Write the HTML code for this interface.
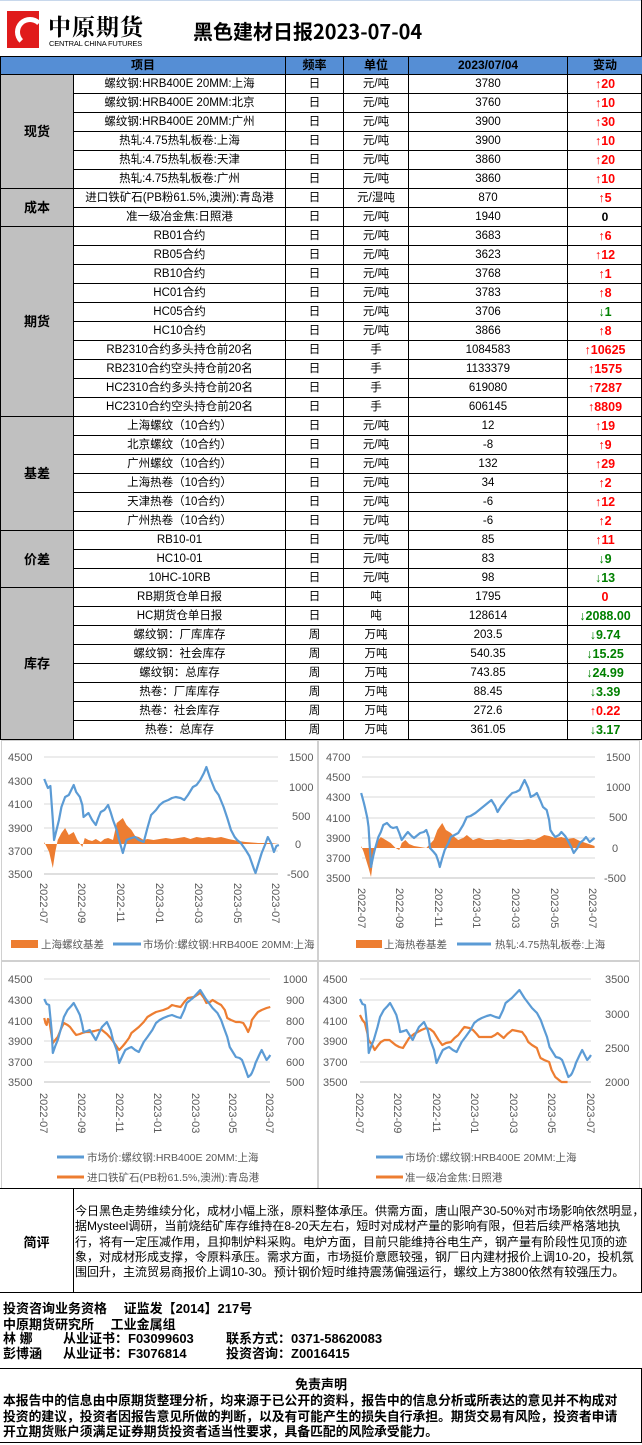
<!DOCTYPE html>
<html><head><meta charset="utf-8">
<style>
*{margin:0;padding:0;box-sizing:border-box}
body{width:642px;height:1445px;background:#fff;position:relative;overflow:hidden;font-family:"Liberation Sans","Noto Sans CJK SC",sans-serif;color:#000}
.abs{position:absolute}
table{position:absolute;left:0;top:56px;border-collapse:collapse;table-layout:fixed;width:642px}
td{border:1px solid #000;height:19px;text-align:center;font-size:11.5px;line-height:17px;white-space:nowrap;overflow:hidden;padding:0}
tr.h td{background:#558ed5;font-weight:bold;height:18px;font-size:12px}
td.cat{background:#c0c0c0;font-weight:bold;font-size:13px}
.u{color:#f00;font-weight:bold;font-size:12.5px}
.d{color:#008000;font-weight:bold;font-size:12.5px}
.z{font-weight:bold;font-size:12px}
svg text{font-family:"Liberation Sans","Noto Sans CJK SC",sans-serif}
.cm{font-size:12px;line-height:15.3px}
.b{font-weight:bold;font-size:13px;line-height:15.5px}
</style></head><body>
<div class="abs" style="left:0;top:0;width:642px;height:56px;border-top:1px solid #c8d8ec"></div>
<div class="abs" style="left:7px;top:11px;width:32px;height:37px;background:#e01b1b;overflow:hidden">
<div style="position:absolute;left:8px;top:6px;width:30px;height:30px;border:5px solid #fff;border-radius:50%;border-right-color:transparent;border-bottom-color:transparent"></div></div>
<div class="abs" style="left:48px;top:9px;font-size:23px;font-weight:bold;letter-spacing:1px;font-family:'Noto Serif CJK SC',serif">中原期货</div>
<div class="abs" style="left:49px;top:39px;font-size:7.5px;letter-spacing:-0.2px">CENTRAL CHINA FUTURES</div>
<div class="abs" style="left:193px;top:18px;font-size:20px;font-weight:bold;font-family:'Noto Sans CJK SC',sans-serif;line-height:26px">黑色建材日报2023-07-04</div>
<div class="abs" style="left:641px;top:0;width:1px;height:740px;background:#000"></div>

<table>
<colgroup><col style="width:73px"><col style="width:212px"><col style="width:58px"><col style="width:65px"><col style="width:159px"><col style="width:75px"></colgroup>
<tr class="h"><td colspan="2">项目</td><td>频率</td><td>单位</td><td>2023/07/04</td><td>变动</td></tr>
<tr><td class="cat" rowspan="6">现货</td><td>螺纹钢:HRB400E 20MM:上海</td><td>日</td><td>元/吨</td><td>3780</td><td class="u">↑20</td></tr>
<tr><td>螺纹钢:HRB400E 20MM:北京</td><td>日</td><td>元/吨</td><td>3760</td><td class="u">↑10</td></tr>
<tr><td>螺纹钢:HRB400E 20MM:广州</td><td>日</td><td>元/吨</td><td>3900</td><td class="u">↑30</td></tr>
<tr><td>热轧:4.75热轧板卷:上海</td><td>日</td><td>元/吨</td><td>3900</td><td class="u">↑10</td></tr>
<tr><td>热轧:4.75热轧板卷:天津</td><td>日</td><td>元/吨</td><td>3860</td><td class="u">↑20</td></tr>
<tr><td>热轧:4.75热轧板卷:广州</td><td>日</td><td>元/吨</td><td>3860</td><td class="u">↑10</td></tr>
<tr><td class="cat" rowspan="2">成本</td><td>进口铁矿石(PB粉61.5%,澳洲):青岛港</td><td>日</td><td>元/湿吨</td><td>870</td><td class="u">↑5</td></tr>
<tr><td>准一级冶金焦:日照港</td><td>日</td><td>元/吨</td><td>1940</td><td class="z">0</td></tr>
<tr><td class="cat" rowspan="10">期货</td><td>RB01合约</td><td>日</td><td>元/吨</td><td>3683</td><td class="u">↑6</td></tr>
<tr><td>RB05合约</td><td>日</td><td>元/吨</td><td>3623</td><td class="u">↑12</td></tr>
<tr><td>RB10合约</td><td>日</td><td>元/吨</td><td>3768</td><td class="u">↑1</td></tr>
<tr><td>HC01合约</td><td>日</td><td>元/吨</td><td>3783</td><td class="u">↑8</td></tr>
<tr><td>HC05合约</td><td>日</td><td>元/吨</td><td>3706</td><td class="d">↓1</td></tr>
<tr><td>HC10合约</td><td>日</td><td>元/吨</td><td>3866</td><td class="u">↑8</td></tr>
<tr><td>RB2310合约多头持仓前20名</td><td>日</td><td>手</td><td>1084583</td><td class="u">↑10625</td></tr>
<tr><td>RB2310合约空头持仓前20名</td><td>日</td><td>手</td><td>1133379</td><td class="u">↑1575</td></tr>
<tr><td>HC2310合约多头持仓前20名</td><td>日</td><td>手</td><td>619080</td><td class="u">↑7287</td></tr>
<tr><td>HC2310合约空头持仓前20名</td><td>日</td><td>手</td><td>606145</td><td class="u">↑8809</td></tr>
<tr><td class="cat" rowspan="6">基差</td><td>上海螺纹（10合约）</td><td>日</td><td>元/吨</td><td>12</td><td class="u">↑19</td></tr>
<tr><td>北京螺纹（10合约）</td><td>日</td><td>元/吨</td><td>-8</td><td class="u">↑9</td></tr>
<tr><td>广州螺纹（10合约）</td><td>日</td><td>元/吨</td><td>132</td><td class="u">↑29</td></tr>
<tr><td>上海热卷（10合约）</td><td>日</td><td>元/吨</td><td>34</td><td class="u">↑2</td></tr>
<tr><td>天津热卷（10合约）</td><td>日</td><td>元/吨</td><td>-6</td><td class="u">↑12</td></tr>
<tr><td>广州热卷（10合约）</td><td>日</td><td>元/吨</td><td>-6</td><td class="u">↑2</td></tr>
<tr><td class="cat" rowspan="3">价差</td><td>RB10-01</td><td>日</td><td>元/吨</td><td>85</td><td class="u">↑11</td></tr>
<tr><td>HC10-01</td><td>日</td><td>元/吨</td><td>83</td><td class="d">↓9</td></tr>
<tr><td>10HC-10RB</td><td>日</td><td>元/吨</td><td>98</td><td class="d">↓13</td></tr>
<tr><td class="cat" rowspan="8">库存</td><td>RB期货仓单日报</td><td>日</td><td>吨</td><td>1795</td><td class="u">0</td></tr>
<tr><td>HC期货仓单日报</td><td>日</td><td>吨</td><td>128614</td><td class="d">↓2088.00</td></tr>
<tr><td>螺纹钢：厂库库存</td><td>周</td><td>万吨</td><td>203.5</td><td class="d">↓9.74</td></tr>
<tr><td>螺纹钢：社会库存</td><td>周</td><td>万吨</td><td>540.35</td><td class="d">↓15.25</td></tr>
<tr><td>螺纹钢：总库存</td><td>周</td><td>万吨</td><td>743.85</td><td class="d">↓24.99</td></tr>
<tr><td>热卷：厂库库存</td><td>周</td><td>万吨</td><td>88.45</td><td class="d">↓3.39</td></tr>
<tr><td>热卷：社会库存</td><td>周</td><td>万吨</td><td>272.6</td><td class="u">↑0.22</td></tr>
<tr><td>热卷：总库存</td><td>周</td><td>万吨</td><td>361.05</td><td class="d">↓3.17</td></tr>
</table>

<svg class="abs" style="left:0;top:740px" width="642" height="450" viewBox="0 0 642 450">
<g fill="none" stroke="#d0d0d0" stroke-width="1">
<rect x="1.5" y="0.5" width="316" height="220"/><rect x="318.5" y="0.5" width="321" height="220"/>
<rect x="1.5" y="221.5" width="316" height="227"/><rect x="318.5" y="221.5" width="321" height="227"/>
</g>
<g stroke="#d9d9d9" stroke-width="1">
<line x1="44" x2="278" y1="17" y2="17"/><line x1="44" x2="278" y1="41" y2="41"/><line x1="44" x2="278" y1="64" y2="64"/><line x1="44" x2="278" y1="88" y2="88"/><line x1="44" x2="278" y1="111" y2="111"/>
<line x1="362" x2="595" y1="17" y2="17"/><line x1="362" x2="595" y1="37" y2="37"/><line x1="362" x2="595" y1="57" y2="57"/><line x1="362" x2="595" y1="78" y2="78"/><line x1="362" x2="595" y1="98" y2="98"/><line x1="362" x2="595" y1="118" y2="118"/>
<line x1="44" x2="270" y1="239" y2="239"/><line x1="44" x2="270" y1="260" y2="260"/><line x1="44" x2="270" y1="281" y2="281"/><line x1="44" x2="270" y1="301" y2="301"/><line x1="44" x2="270" y1="322" y2="322"/>
<line x1="360" x2="591" y1="239" y2="239"/><line x1="360" x2="591" y1="260" y2="260"/><line x1="360" x2="591" y1="281" y2="281"/><line x1="360" x2="591" y1="301" y2="301"/><line x1="360" x2="591" y1="322" y2="322"/>
</g>
<g stroke="#bfbfbf"><line x1="44" x2="278" y1="134" y2="134"/><line x1="362" x2="595" y1="138" y2="138"/><line x1="44" x2="270" y1="342" y2="342"/><line x1="360" x2="591" y1="342" y2="342"/></g>
<g transform="scale(1.2285,1)">
<polygon fill="#ed7d31" points="36,104 36,102 38,107 40,112 43,128 45,112 47,100 50,93 53,88 56,95 60,92 63,100 67,107 69,98 72,100 75,101 78,99 82,102 85,99 88,98 92,100 95,83 98,80 100,78 103,85 107,90 110,96 113,97 117,100 120,99 125,100 130,99 135,98 140,99 145,98 150,97 155,99 160,97 165,98 170,97 175,98 180,97 186,99 190,100 194,101 200,102 210,103 220,103 227,104"/>
<polyline fill="none" stroke="#5b9bd5" stroke-width="2.2" vector-effect="non-scaling-stroke" stroke-linejoin="round" points="36,39 39,48 41,46 42,63 43,80 44,100 46,90 48,80 50,67 53,57 56,55 58,50 60,45 62,52 65,57 67,65 68,77 70,75 72,73 75,80 78,85 80,78 82,72 85,70 88,65 90,72 92,80 95,90 97,100 100,113 102,104 103,100 107,98 110,97 113,100 117,102 120,88 123,75 127,70 130,65 133,62 137,60 140,58 143,57 147,58 150,60 153,55 157,47 160,45 163,40 166,33 168,27 171,38 175,50 178,55 182,67 185,78 188,90 191,97 193,100 196,103 200,110 203,116 205,123 207,130 208,133 210,125 213,113 216,104 218,97 221,104 223,112 225,106 227,105"/>
<polygon fill="#ed7d31" points="294,108 294,106 296,112 298,120 300,128 302,137 304,118 306,107 308,100 310,97 314,100 318,103 322,108 325,110 327,103 330,100 333,104 337,106 342,107 347,108 350,104 353,100 356,90 360,83 363,90 367,93 370,97 373,100 377,98 380,95 385,100 390,98 395,100 400,100 405,99 410,100 415,99 420,100 425,100 430,99 435,100 440,97 443,95 447,96 452,98 457,97 462,99 467,98 472,101 477,103 484,106 484,108"/>
<polyline fill="none" stroke="#5b9bd5" stroke-width="2.2" vector-effect="non-scaling-stroke" stroke-linejoin="round" points="294,53 296,62 297,67 299,78 300,87 302,127 304,115 305,110 308,97 310,92 312,85 315,83 318,87 320,88 323,87 325,93 327,100 330,95 332,92 335,96 337,98 340,95 342,93 345,92 347,90 349,97 350,108 353,112 355,115 357,122 358,127 360,118 362,110 365,103 367,97 370,95 373,93 377,85 380,77 383,76 387,73 390,70 393,67 397,63 400,60 403,66 405,72 408,66 410,63 413,58 417,53 420,52 423,50 425,45 427,40 430,48 432,57 435,55 437,53 440,61 442,67 445,70 447,80 448,90 450,94 452,97 455,95 457,92 460,96 462,100 465,107 467,113 470,108 472,103 475,100 477,97 480,102 482,100 484,98"/>
</g>
<g transform="scale(1.2285,1)">
<polyline fill="none" stroke="#ed7d31" stroke-width="2.2" vector-effect="non-scaling-stroke" stroke-linejoin="round" points="36,278 37,283 38,285 39,279 40,280 43,303 45,300 47,297 50,288 52,283 55,285 57,287 60,292 62,295 65,294 67,293 70,292 73,292 77,291 80,290 83,290 87,294 90,298 93,303 97,310 100,306 102,303 105,298 107,293 110,290 113,287 117,282 120,277 124,274 127,272 130,271 133,270 137,268 140,265 143,266 147,267 150,262 153,258 158,257 163,253 166,258 168,263 171,262 173,260 177,263 180,265 183,270 185,278 188,280 192,282 195,282 198,283 200,287 202,292 204,286 205,280 208,275 210,272 213,270 217,268 220,267"/>
<polyline fill="none" stroke="#5b9bd5" stroke-width="2.2" vector-effect="non-scaling-stroke" stroke-linejoin="round" points="36,259 38,264 40,265 42,290 43,313 45,306 47,300 50,287 52,277 55,270 58,266 60,263 63,270 65,275 67,285 68,292 71,291 73,290 76,296 78,300 81,292 83,287 87,282 90,290 92,300 95,310 97,323 100,315 102,310 105,308 107,307 110,310 113,312 117,302 120,297 124,290 127,283 130,280 133,278 137,276 140,275 144,277 147,278 150,270 152,263 155,260 157,258 160,254 163,250 167,258 170,263 173,268 177,273 180,280 182,287 185,297 187,307 190,313 192,317 195,318 197,320 200,330 202,337 204,335 205,333 207,327 208,323 211,315 213,310 215,315 217,320 219,317 220,315"/>
<polyline fill="none" stroke="#ed7d31" stroke-width="2.2" vector-effect="non-scaling-stroke" stroke-linejoin="round" points="293,275 295,280 297,283 299,293 300,300 303,305 305,310 308,305 310,302 313,300 317,300 320,303 322,305 325,307 328,308 331,302 333,298 337,294 340,292 343,290 347,288 350,289 353,292 357,300 360,305 363,303 367,302 370,298 373,295 376,290 378,287 382,288 385,290 388,294 390,297 395,297 400,297 403,295 405,293 408,296 410,298 413,294 417,290 421,291 425,292 428,297 430,302 433,305 437,308 439,315 440,318 443,320 447,322 449,330 452,337 455,340 457,342 462,342"/>
<g transform="translate(293,0) scale(1.022,1) translate(-36,0)">
<polyline fill="none" stroke="#5b9bd5" stroke-width="2.2" vector-effect="non-scaling-stroke" stroke-linejoin="round" points="36,259 38,264 40,265 42,290 43,313 45,306 47,300 50,287 52,277 55,270 58,266 60,263 63,270 65,275 67,285 68,292 71,291 73,290 76,296 78,300 81,292 83,287 87,282 90,290 92,300 95,310 97,323 100,315 102,310 105,308 107,307 110,310 113,312 117,302 120,297 124,290 127,283 130,280 133,278 137,276 140,275 144,277 147,278 150,270 152,263 155,260 157,258 160,254 163,250 167,258 170,263 173,268 177,273 180,280 182,287 185,297 187,307 190,313 192,317 195,318 197,320 200,330 202,337 204,335 205,333 207,327 208,323 211,315 213,310 215,315 217,320 219,317 220,315"/>
</g>
</g>
<g font-size="11" fill="#595959">
<text x="8" y="21">4500</text><text x="8" y="45">4300</text><text x="8" y="68">4100</text><text x="8" y="92">3900</text><text x="8" y="115">3700</text><text x="8" y="138">3500</text>
<text x="289" y="21">1500</text><text x="289" y="51">1000</text><text x="292" y="80">500</text><text x="295" y="108">0</text><text x="287" y="138">-500</text>
<text x="326" y="21">4700</text><text x="326" y="41">4500</text><text x="326" y="61">4300</text><text x="326" y="82">4100</text><text x="326" y="102">3900</text><text x="326" y="122">3700</text><text x="326" y="142">3500</text>
<text x="606" y="21">1500</text><text x="606" y="51">1000</text><text x="609" y="81">500</text><text x="612" y="112">0</text><text x="604" y="142">-500</text>
<text x="8" y="243">4500</text><text x="8" y="264">4300</text><text x="8" y="285">4100</text><text x="8" y="305">3900</text><text x="8" y="326">3700</text><text x="8" y="346">3500</text>
<text x="283" y="243">1000</text><text x="286" y="264">900</text><text x="286" y="285">800</text><text x="286" y="305">700</text><text x="286" y="326">600</text><text x="286" y="346">500</text>
<text x="323" y="243">4500</text><text x="323" y="264">4300</text><text x="323" y="285">4100</text><text x="323" y="305">3900</text><text x="323" y="326">3700</text><text x="323" y="346">3500</text>
<text x="605" y="243">3500</text><text x="605" y="278">3000</text><text x="605" y="312">2500</text><text x="605" y="346">2000</text>
</g>
<g font-size="11" fill="#595959">
<text transform="translate(40,143) rotate(90)">2022-07</text><text transform="translate(78,143) rotate(90)">2022-09</text><text transform="translate(117,143) rotate(90)">2022-11</text><text transform="translate(156,143) rotate(90)">2023-01</text><text transform="translate(195,143) rotate(90)">2023-03</text><text transform="translate(234,143) rotate(90)">2023-05</text><text transform="translate(272,143) rotate(90)">2023-07</text>
<text transform="translate(358,148) rotate(90)">2022-07</text><text transform="translate(396,148) rotate(90)">2022-09</text><text transform="translate(435,148) rotate(90)">2022-11</text><text transform="translate(473,148) rotate(90)">2023-01</text><text transform="translate(512,148) rotate(90)">2023-03</text><text transform="translate(551,148) rotate(90)">2023-05</text><text transform="translate(589,148) rotate(90)">2023-07</text>
<text transform="translate(40,353) rotate(90)">2022-07</text><text transform="translate(78,353) rotate(90)">2022-09</text><text transform="translate(116,353) rotate(90)">2022-11</text><text transform="translate(154,353) rotate(90)">2023-01</text><text transform="translate(192,353) rotate(90)">2023-03</text><text transform="translate(229,353) rotate(90)">2023-05</text><text transform="translate(266,353) rotate(90)">2023-07</text>
<text transform="translate(356,353) rotate(90)">2022-07</text><text transform="translate(394,353) rotate(90)">2022-09</text><text transform="translate(433,353) rotate(90)">2022-11</text><text transform="translate(471,353) rotate(90)">2023-01</text><text transform="translate(510,353) rotate(90)">2023-03</text><text transform="translate(548,353) rotate(90)">2023-05</text><text transform="translate(587,353) rotate(90)">2023-07</text>
</g>
<g font-size="10.5" fill="#595959">
<rect x="11" y="200" width="27" height="8" fill="#ed7d31"/><text x="41" y="208">上海螺纹基差</text>
<line x1="113" x2="141" y1="204" y2="204" stroke="#5b9bd5" stroke-width="3"/><text x="143" y="208">市场价:螺纹钢:HRB400E 20MM:上海</text>
<rect x="356" y="200" width="26" height="8" fill="#ed7d31"/><text x="384" y="208">上海热卷基差</text>
<line x1="457" x2="491" y1="204" y2="204" stroke="#5b9bd5" stroke-width="3"/><text x="495" y="208">热轧:4.75热轧板卷:上海</text>
<line x1="57" x2="84" y1="417" y2="417" stroke="#5b9bd5" stroke-width="3"/><text x="87" y="421">市场价:螺纹钢:HRB400E 20MM:上海</text>
<line x1="57" x2="84" y1="437" y2="437" stroke="#ed7d31" stroke-width="3"/><text x="87" y="441">进口铁矿石(PB粉61.5%,澳洲):青岛港</text>
<line x1="376" x2="403" y1="417" y2="417" stroke="#5b9bd5" stroke-width="3"/><text x="405" y="421">市场价:螺纹钢:HRB400E 20MM:上海</text>
<line x1="376" x2="403" y1="437" y2="437" stroke="#ed7d31" stroke-width="3"/><text x="405" y="441">准一级冶金焦:日照港</text>
</g>
</svg>

<div class="abs" style="left:0;top:1188px;width:642px;height:105px;border-top:1.5px solid #000;border-bottom:1.5px solid #000;border-right:1px solid #000"></div>
<div class="abs" style="left:73px;top:1189px;width:1px;height:103px;background:#000"></div>
<div class="abs" style="left:0;top:1232px;width:73px;text-align:center;font-weight:bold;font-size:13px">简评</div>
<div class="abs cm" style="left:75px;top:1204px;width:566px;white-space:nowrap">今日黑色走势维续分化，成材小幅上涨，原料整体承压。供需方面，唐山限产30-50%对市场影响依然明显，<br>据Mysteel调研，当前烧结矿库存维持在8-20天左右，短时对成材产量的影响有限，但若后续严格落地执<br>行，将有一定压减作用，且抑制炉料采购。电炉方面，目前只能维持谷电生产，钢产量有阶段性见顶的迹<br>象，对成材形成支撑，令原料承压。需求方面，市场挺价意愿较强，钢厂日内建材报价上调10-20，投机氛<br>围回升，主流贸易商报价上调10-30。预计钢价短时维持震荡偏强运行，螺纹上方3800依然有较强压力。</div>

<div class="abs b" style="left:3px;top:1301px;white-space:pre">投资咨询业务资格　 证监发【2014】217号
中原期货研究所 　工业金属组</div>
<div class="abs b" style="left:3px;top:1331px">林 娜</div><div class="abs b" style="left:63px;top:1331px">从业证书：F03099603</div><div class="abs b" style="left:226px;top:1331px">联系方式：0371-58620083</div>
<div class="abs b" style="left:3px;top:1346px">彭博涵</div><div class="abs b" style="left:63px;top:1346px">从业证书：F3076814</div><div class="abs b" style="left:226px;top:1346px">投资咨询：Z0016415</div>
<div class="abs" style="left:0;top:1368px;width:642px;height:75px;border-top:1.5px solid #000;border-bottom:1.5px solid #000;border-right:1px solid #000"></div>
<div class="abs b" style="left:0;top:1377px;width:642px;text-align:center">免责声明</div>
<div class="abs b" style="left:3px;top:1393px;width:638px;white-space:nowrap;font-size:12.8px">本报告中的信息由中原期货整理分析，均来源于已公开的资料，报告中的信息分析或所表达的意见并不构成对<br>投资的建议，投资者因报告意见所做的判断，以及有可能产生的损失自行承担。期货交易有风险，投资者申请<br>开立期货账户须满足证券期货投资者适当性要求，具备匹配的风险承受能力。</div>
</body></html>
